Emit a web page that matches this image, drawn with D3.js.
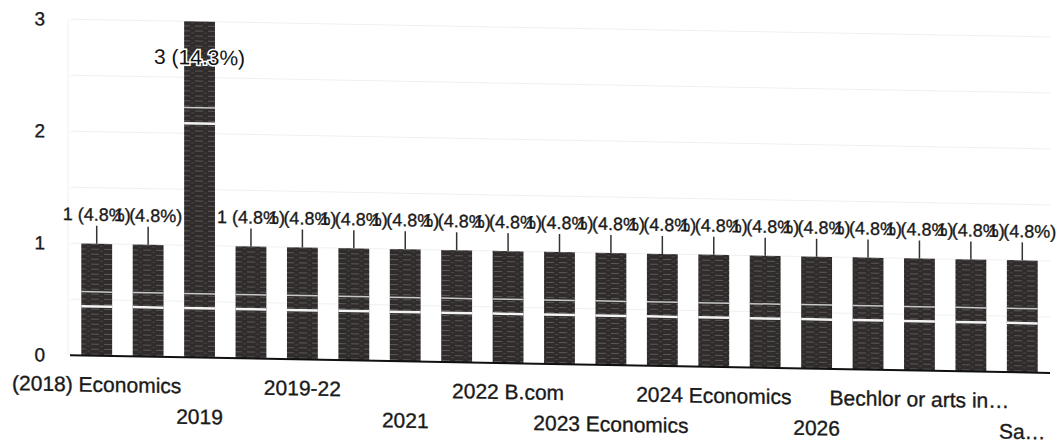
<!DOCTYPE html>
<html>
<head>
<meta charset="utf-8">
<script src="https://cdn.jsdelivr.net/npm/d3@7"></script>
<style>
  body { margin: 0; background: #fff; }
  text { font-family: "Liberation Sans", Arial, sans-serif; }
  .ink-text { stroke: #1a1a1a; stroke-width: 0.35px; }
</style>
</head>
<body>
<div id="chart"></div>
<script>
// Categories (only every other one is shown on the axis)
const categories = [
  "(2018) Economics", "2018", "2019", "2019 B.com", "2019-22", "2020",
  "2021", "2021 B.com", "2022 B.com", "2022 Economics", "2023 Economics",
  "2023 B.com", "2024 Economics", "2025", "2026", "2026 Economics",
  "Bechlor or arts in…", "Bechlor of commerce", "Sa…"
];
const counts = [1, 1, 3, 1, 1, 1, 1, 1, 1, 1, 1, 1, 1, 1, 1, 1, 1, 1, 1];
const yTicks = [0, 1, 2, 3];
const gridValues = [0.5, 1, 1.5, 2, 2.5, 3];

const width = 1057;
const height = 442;
const total = d3.sum(counts);

const svg = d3.select("#chart")
  .append("svg")
  .attr("width", width)
  .attr("height", height);

// the scanned page is slightly sheared
const g = svg.append("g")
  .attr("transform", "skewY(1.03)");

const x = d3.scaleBand()
  .domain(categories)
  .range([71, 1048])
  .paddingInner(0.4)
  .paddingOuter(0.2);

const y = d3.scaleLinear()
  .domain([0, 3])
  .range([354, 18]);

// bar texture
const pattern = svg.append("defs").append("pattern")
  .attr("id", "ink")
  .attr("patternUnits", "userSpaceOnUse")
  .attr("width", 13)
  .attr("height", 5);
pattern.append("rect").attr("width", 13).attr("height", 5).attr("fill", "#302c2c");
pattern.append("rect").attr("y", 2).attr("width", 8).attr("height", 1).attr("fill", "#5c5858");
pattern.append("rect").attr("x", 9).attr("y", 4).attr("width", 3).attr("height", 1).attr("fill", "#4a4646");

// faint gridlines
g.selectAll(".grid")
  .data(gridValues)
  .join("line")
  .attr("class", "grid")
  .attr("x1", 70)
  .attr("x2", 1050)
  .attr("y1", d => y(d))
  .attr("y2", d => y(d))
  .attr("stroke", "#f0f0f0")
  .attr("stroke-width", 1);

g.append("line")
  .attr("x1", 68).attr("x2", 68)
  .attr("y1", y(3)).attr("y2", y(0))
  .attr("stroke", "#f2f2f2");

// y tick labels
g.selectAll(".ytick")
  .data(yTicks)
  .join("text")
  .attr("class", "ytick ink-text")
  .attr("x", 45)
  .attr("y", d => y(d))
  .attr("dy", "0.35em")
  .attr("text-anchor", "end")
  .attr("font-size", 19)
  .attr("fill", "#1a1a1a")
  .text(d => d);

// bars
g.selectAll(".bar")
  .data(counts)
  .join("rect")
  .attr("class", "bar")
  .attr("x", (d, i) => x(categories[i]))
  .attr("y", d => y(d))
  .attr("width", x.bandwidth())
  .attr("height", d => y(0) - y(d))
  .attr("fill", "url(#ink)");

// light streaks left by the scanner
const streaks = [{ v: 0.44, w: 2.5, c: "#f4f4f4" }, { v: 0.57, w: 1.5, c: "#c8c8c8" },
                 { v: 2.09, w: 2.5, c: "#f4f4f4" }, { v: 2.23, w: 1.5, c: "#c8c8c8" }];
counts.forEach((d, i) => {
  streaks.filter(s => s.v < d).forEach(s => {
    g.append("line")
      .attr("x1", x(categories[i]))
      .attr("x2", x(categories[i]) + x.bandwidth())
      .attr("y1", y(s.v))
      .attr("y2", y(s.v))
      .attr("stroke", s.c)
      .attr("stroke-width", s.w);
  });
});

// baseline
g.append("line")
  .attr("x1", 70)
  .attr("x2", 1050)
  .attr("y1", y(0))
  .attr("y2", y(0))
  .attr("stroke", "#111")
  .attr("stroke-width", 2);

// value labels
const fmt = d => `${d} (${(d / total * 100).toFixed(1)}%)`;
const maxVal = y.domain()[1];

counts.forEach((d, i) => {
  const cx = x(categories[i]) + x.bandwidth() / 2;
  if (d >= maxVal) {
    // no room above: label goes inside the bar
    g.append("text")
      .attr("x", cx)
      .attr("y", y(d) + 43)
      .attr("text-anchor", "middle")
      .attr("font-size", 21)
      .attr("fill", "#111")
      .attr("stroke", "#fff")
      .attr("stroke-width", 3)
      .attr("paint-order", "stroke")
      .text(fmt(d));
  } else {
    g.append("line")
      .attr("x1", cx).attr("x2", cx)
      .attr("y1", y(d) - 18)
      .attr("y2", y(d))
      .attr("stroke", "#333")
      .attr("stroke-width", 1.5);
    g.append("text")
      .attr("class", "ink-text")
      .attr("x", cx)
      .attr("y", y(d) - 23)
      .attr("text-anchor", "middle")
      .attr("font-size", 18)
      .attr("fill", "#1a1a1a")
      .text(fmt(d));
  }
});

// x labels, every other category on two staggered rows
g.selectAll(".xlabel")
  .data(categories.filter((c, i) => i % 2 === 0))
  .join("text")
  .attr("class", "xlabel ink-text")
  .attr("x", d => x(d) + x.bandwidth() / 2)
  .attr("y", (d, i) => i % 2 === 0 ? 390 : 420.5)
  .attr("text-anchor", "middle")
  .attr("font-size", 21)
  .attr("fill", "#1a1a1a")
  .text(d => d);
</script>
</body>
</html>
